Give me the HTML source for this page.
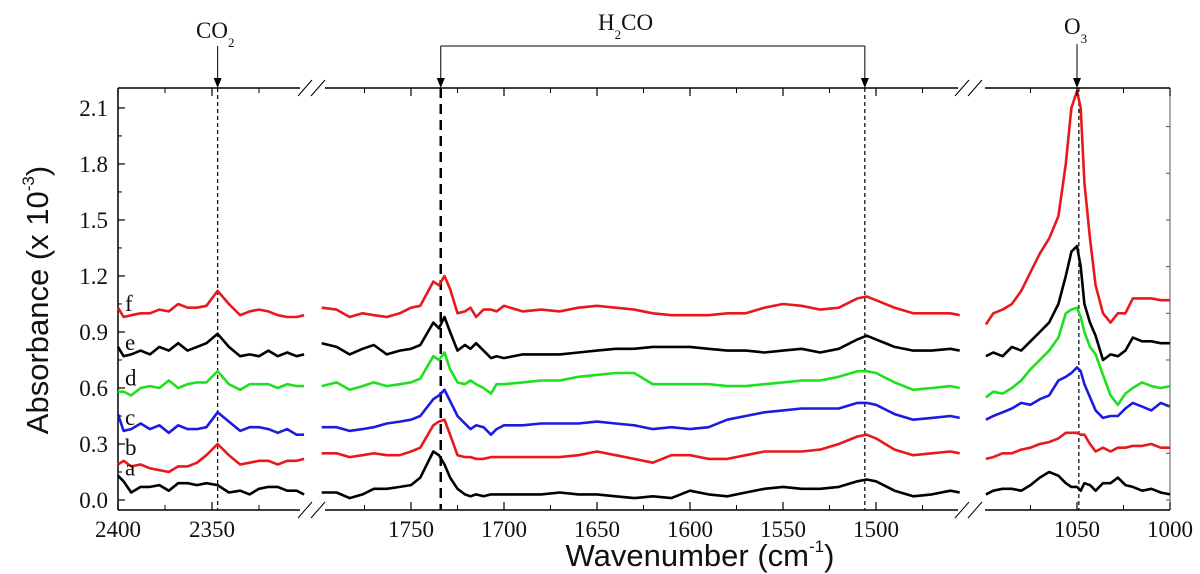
<!DOCTYPE html>
<html><head><meta charset="utf-8"><style>
html,body{margin:0;padding:0;background:#fff;}
svg{display:block;}
.tl{font-family:"Liberation Serif",serif;font-size:23px;fill:#111;}
.ax{font-family:"Liberation Sans",sans-serif;font-size:31px;fill:#111;}
</style></head><body>
<svg id="chart" width="1200" height="574" viewBox="0 0 1200 574">
<g id="frame"></g>
<g id="guides"></g>
<g id="series"></g>
<g id="ticks"></g>
<text class="ax" transform="translate(48,300) rotate(-90)" text-anchor="middle">Absorbance (x 10<tspan font-size="17" dy="-14">-3</tspan><tspan dy="14">)</tspan></text>
<text class="ax" x="700" y="566" text-anchor="middle">Wavenumber (cm<tspan font-size="17" dy="-14">-1</tspan><tspan dy="14">)</tspan></text>
<text class="tl" x="196" y="38" font-size="25">CO<tspan font-size="13" dy="9">2</tspan></text>
<text class="tl" x="598" y="30" font-size="25">H<tspan font-size="13" dy="9">2</tspan><tspan dy="-9">CO</tspan></text>
<text class="tl" x="1064" y="34" font-size="25">O<tspan font-size="13" dy="9">3</tspan></text>
</svg>
<script>
const grid1=[2400,2397,2393,2388,2383,2378,2373,2368,2363,2358,2353,2347,2341,2335,2330,2325,2320,2315,2310,2305,2301];
const grid2=[1798,1790,1783,1776,1770,1763,1756,1750,1745,1738,1735,1732,1729,1725,1721,1718,1715,1711,1707,1704,1700,1690,1680,1670,1660,1650,1640,1630,1620,1610,1600,1590,1580,1570,1560,1550,1540,1530,1520,1510,1505,1500,1490,1480,1470,1460,1455];
const grid3=[1099,1095,1090,1085,1080,1075,1070,1065,1060,1056,1053,1050,1048,1046,1043,1040,1036,1032,1028,1024,1020,1015,1010,1005,1000];
const seriesNames=['a','b','c','d','e','f'];
const seriesColors=['#000000','#e8191c','#1c1ce0','#1ee01e','#000000','#e8191c'];
const p1a=[0.13,0.10,0.04,0.07,0.07,0.08,0.05,0.09,0.09,0.08,0.09,0.08,0.04,0.05,0.03,0.06,0.07,0.07,0.05,0.05,0.03];
const p1b=[0.19,0.21,0.18,0.19,0.17,0.16,0.15,0.18,0.18,0.20,0.24,0.30,0.24,0.19,0.20,0.21,0.21,0.19,0.21,0.21,0.22];
const p1c=[0.46,0.37,0.38,0.41,0.38,0.40,0.36,0.40,0.38,0.38,0.39,0.47,0.42,0.37,0.39,0.39,0.38,0.36,0.38,0.35,0.35];
const p1d=[0.58,0.58,0.56,0.60,0.61,0.60,0.64,0.60,0.62,0.63,0.63,0.69,0.62,0.59,0.62,0.62,0.62,0.60,0.62,0.61,0.61];
const p1e=[0.82,0.77,0.78,0.80,0.78,0.82,0.80,0.84,0.80,0.82,0.84,0.89,0.82,0.77,0.78,0.77,0.80,0.77,0.79,0.77,0.78];
const p1f=[1.03,0.98,0.99,1.00,1.00,1.02,1.01,1.05,1.03,1.03,1.04,1.12,1.05,0.99,1.01,1.02,1.01,0.99,0.98,0.98,0.99];
const p2a=[0.04,0.04,0.01,0.03,0.06,0.06,0.07,0.08,0.12,0.26,0.24,0.19,0.12,0.06,0.03,0.02,0.03,0.02,0.03,0.03,0.03,0.03,0.03,0.04,0.03,0.03,0.02,0.01,0.02,0.01,0.05,0.03,0.02,0.04,0.06,0.07,0.06,0.06,0.07,0.10,0.11,0.10,0.05,0.02,0.03,0.05,0.04];
const p2b=[0.25,0.25,0.23,0.24,0.25,0.24,0.24,0.26,0.28,0.40,0.42,0.43,0.35,0.24,0.23,0.23,0.22,0.22,0.23,0.23,0.23,0.23,0.23,0.23,0.24,0.26,0.24,0.22,0.20,0.24,0.24,0.22,0.22,0.24,0.26,0.26,0.26,0.27,0.30,0.34,0.35,0.33,0.27,0.24,0.25,0.26,0.25];
const p2c=[0.39,0.39,0.37,0.38,0.39,0.41,0.42,0.43,0.45,0.54,0.56,0.59,0.53,0.45,0.41,0.38,0.40,0.39,0.35,0.38,0.40,0.40,0.41,0.41,0.41,0.42,0.41,0.40,0.38,0.39,0.38,0.39,0.43,0.45,0.47,0.48,0.49,0.49,0.49,0.52,0.52,0.51,0.46,0.43,0.44,0.45,0.44];
const p2d=[0.61,0.63,0.59,0.61,0.63,0.61,0.62,0.63,0.65,0.77,0.75,0.79,0.70,0.63,0.62,0.64,0.62,0.60,0.57,0.62,0.62,0.63,0.64,0.64,0.66,0.67,0.68,0.68,0.62,0.62,0.62,0.62,0.61,0.61,0.62,0.63,0.64,0.64,0.66,0.69,0.69,0.68,0.63,0.59,0.60,0.61,0.60];
const p2e=[0.84,0.82,0.78,0.81,0.83,0.78,0.80,0.81,0.83,0.95,0.92,0.98,0.90,0.80,0.83,0.81,0.84,0.80,0.76,0.77,0.76,0.78,0.78,0.78,0.79,0.80,0.81,0.81,0.82,0.82,0.82,0.81,0.80,0.80,0.79,0.80,0.81,0.79,0.81,0.86,0.88,0.86,0.82,0.80,0.80,0.81,0.80];
const p2f=[1.03,1.02,0.98,1.00,0.99,0.98,1.00,1.03,1.04,1.17,1.15,1.20,1.13,1.00,1.01,1.03,0.98,1.02,1.02,1.01,1.04,1.01,1.02,1.01,1.03,1.04,1.03,1.02,1.00,0.99,0.99,0.99,1.00,1.00,1.03,1.05,1.04,1.02,1.03,1.08,1.09,1.07,1.03,1.00,1.00,1.00,0.99];
const p3a=[0.03,0.05,0.06,0.06,0.05,0.08,0.12,0.15,0.13,0.09,0.07,0.07,0.05,0.09,0.08,0.05,0.09,0.09,0.12,0.08,0.07,0.05,0.06,0.04,0.03];
const p3b=[0.22,0.23,0.25,0.25,0.27,0.28,0.30,0.31,0.33,0.36,0.36,0.36,0.35,0.35,0.30,0.26,0.28,0.26,0.28,0.28,0.29,0.29,0.30,0.28,0.28];
const p3c=[0.43,0.45,0.47,0.49,0.52,0.51,0.54,0.56,0.64,0.66,0.68,0.71,0.69,0.62,0.55,0.48,0.44,0.45,0.45,0.49,0.52,0.50,0.48,0.52,0.50];
const p3d=[0.55,0.58,0.57,0.60,0.64,0.70,0.75,0.80,0.87,1.00,1.02,1.03,0.98,0.90,0.82,0.78,0.67,0.56,0.51,0.57,0.60,0.63,0.61,0.60,0.61];
const p3e=[0.77,0.79,0.77,0.82,0.80,0.85,0.90,0.95,1.05,1.20,1.33,1.36,1.25,1.05,0.95,0.88,0.75,0.78,0.77,0.80,0.87,0.85,0.85,0.84,0.84];
const p3f=[0.94,1.00,1.02,1.05,1.12,1.22,1.32,1.40,1.52,1.80,2.10,2.19,2.10,1.70,1.40,1.15,1.00,0.95,1.00,1.00,1.08,1.08,1.08,1.07,1.07];
const yTicks=[0,0.3,0.6,0.9,1.2,1.5,1.8,2.1];
const yTickLabels=['0.0','0.3','0.6','0.9','1.2','1.5','1.8','2.1'];
const xTicks1=[2400,2350];const xTicks2=[1750,1700,1650,1600,1550,1500];const xTicks3=[1050,1000];

const NS='http://www.w3.org/2000/svg';
const TOP=88,BOT=510,LEFT=118,RIGHT=1170;
function y(v){return 500-186.7*v;}
function x1(w){return 118+(2400-w)*1.88;}
function x2(w){return 411+(1750-w)*1.86;}
function x3(w){return 1077+(1050-w)*1.86;}
function mk(tag,attrs,parent){const e=document.createElementNS(NS,tag);for(const k in attrs)e.setAttribute(k,attrs[k]);parent.appendChild(e);return e;}
const frame=document.getElementById('frame'),guides=document.getElementById('guides'),ser=document.getElementById('series'),tk=document.getElementById('ticks'),svg=document.getElementById('chart');
const st={stroke:'#000','stroke-width':1.5,fill:'none'};
[[LEFT,300],[325,958],[985,RIGHT]].forEach(function(s,i){
  let l=mk('line',Object.assign({x1:s[0],x2:s[1],y1:TOP,y2:TOP},st),frame);
  
  
  let b=mk('line',Object.assign({x1:s[0],x2:s[1],y1:BOT,y2:BOT},st),frame);
  
  
});
let la=mk('line',Object.assign({x1:LEFT,x2:LEFT,y1:TOP,y2:BOT},st),frame);


let ra=mk('line',{x1:RIGHT,x2:RIGHT,y1:TOP,y2:BOT,stroke:'#555','stroke-width':1},frame);


[298,311,955,968].forEach(function(bx){[TOP,BOT].forEach(function(by){
  let m=mk('line',{x1:bx,y1:by+8,x2:bx+14,y2:by-8,stroke:'#000','stroke-width':1},frame);
  
  
});});
yTicks.forEach(function(v,i){
  let t=mk('line',{x1:LEFT,x2:LEFT+7,y1:y(v),y2:y(v),stroke:'#000','stroke-width':1.2},tk);
  
  
  if(v+0.15<2.2){
    let m=mk('line',{x1:LEFT,x2:LEFT+4,y1:y(v+0.15),y2:y(v+0.15),stroke:'#000','stroke-width':1},tk);
    
    
  }
  let lb=mk('text',{x:LEFT-10,y:y(v)+8,'text-anchor':'end',class:'tl'},tk);lb.textContent=yTickLabels[i];
  
  
});
for(let v=0;v<=2.2;v+=0.25){let r=mk('line',{x1:RIGHT-4,x2:RIGHT,y1:y(v),y2:y(v),stroke:'#555','stroke-width':1},tk);
  
  }
function xt(list,fx,minors){
  list.forEach(function(w){
    [TOP,BOT].forEach(function(by){let t=mk('line',{x1:fx(w),x2:fx(w),y1:by,y2:by===TOP?by+8:by-8,stroke:'#000','stroke-width':1.2},tk);
      
      });
    let lb=mk('text',{x:fx(w),y:BOT+27,'text-anchor':'middle',class:'tl'},tk);lb.textContent=String(w);
    
    
  });
  minors.forEach(function(w){[TOP,BOT].forEach(function(by){let t=mk('line',{x1:fx(w),x2:fx(w),y1:by,y2:by===TOP?by+5:by-5,stroke:'#000','stroke-width':1},tk);
    
    });});
}
xt(xTicks1,x1,[2375,2325]);
xt(xTicks2,x2,[1775,1725,1675,1625,1575,1525,1475]);
xt(xTicks3,x3,[1075,1025]);
function vline(xx,dash,w,name){let l=mk('line',{x1:xx,x2:xx,y1:TOP,y2:BOT,stroke:'#000','stroke-width':w,'stroke-dasharray':dash},guides);
  
  }
vline(x1(2347),'4,3',1.2,'co2-guide');
vline(x2(1734),'10,6',2.5,'h2co-guide-1');
vline(x2(1506),'4,3',1.2,'h2co-guide-2');
vline(x3(1049),'4,3',1.2,'o3-guide');
function arrow(xx,y0,name){let l=mk('line',{x1:xx,x2:xx,y1:y0,y2:TOP-8,stroke:'#000','stroke-width':1},guides);
  
  
  let h=mk('polygon',{points:(xx-4)+','+(TOP-10)+' '+(xx+4)+','+(TOP-10)+' '+xx+','+TOP,fill:'#000'},guides);
  
  }
arrow(x1(2347),46,'co2-arrow');
arrow(x2(1734),46,'h2co-arrow-1');
arrow(x2(1506),46,'h2co-arrow-2');
arrow(x3(1050),44,'o3-arrow');
let br=mk('line',{x1:x2(1734),x2:x2(1506),y1:46,y2:46,stroke:'#000','stroke-width':1},guides);


const panels=[[grid1,x1,[p1a,p1b,p1c,p1d,p1e,p1f]],[grid2,x2,[p2a,p2b,p2c,p2d,p2e,p2f]],[grid3,x3,[p3a,p3b,p3c,p3d,p3e,p3f]]];
panels.forEach(function(p,pi){
  p[2].forEach(function(vals,si){
    let d=vals.map(function(v,i){return (i?'L':'M')+p[1](p[0][i]).toFixed(1)+','+y(v).toFixed(1);}).join(' ');
    let path=mk('path',{d:d,stroke:seriesColors[si],'stroke-width':2.6,fill:'none','stroke-linejoin':'round'},ser);
    
    
  });
});
[p1a,p1b,p1c,p1d,p1e,p1f].forEach(function(vals,si){
  let t=mk('text',{x:125,y:y(vals[1])-6,class:'tl'},svg);t.textContent=seriesNames[si];
  
  
});
</script>
</body></html>
